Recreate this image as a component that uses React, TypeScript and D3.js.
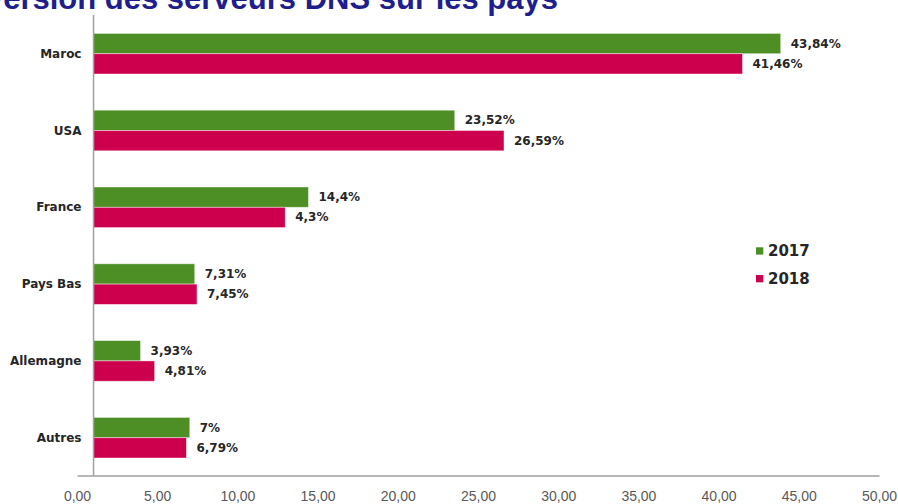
import React from "react";
import * as d3 from "d3";

const categories = ["Maroc", "USA", "France", "Pays Bas", "Allemagne", "Autres"];
const seriesNames = ["2017", "2018"];
const values2017 = [43.84, 23.52, 14.4, 7.31, 3.93, 7.0];
const values2018 = [41.46, 26.59, 12.95, 7.45, 4.81, 6.79];
const labels2017 = ["43,84%", "23,52%", "14,4%", "7,31%", "3,93%", "7%"];
const labels2018 = ["41,46%", "26,59%", "4,3%", "7,45%", "4,81%", "6,79%"];
const xTicks = [0, 5, 10, 15, 20, 25, 30, 35, 40, 45, 50];
const titleText = "Version des serveurs DNS sur les pays";

const W = 898;
const H = 504;
const COLORS = ["#4E8F25", "#CC004C"];
const AXIS_CROSS = 1;
const FONT = "'DejaVu Sans', 'Liberation Sans', sans-serif";

export default function App() {
  const x = d3.scaleLinear().domain([0, 50]).range([77.5, 879.5]);
  const y = d3
    .scaleBand<string>()
    .domain(categories)
    .range([15.3, 476.1])
    .paddingInner(0.471)
    .paddingOuter(0.2355);
  const inner = d3.scaleBand<string>().domain(seriesNames).range([0, y.bandwidth()]);
  const fmt = (v: number) => d3.format(".2f")(v).replace(".", ",");
  const series = [
    { name: seriesNames[0], values: values2017, labels: labels2017 },
    { name: seriesNames[1], values: values2018, labels: labels2018 },
  ];
  const axisX = x(AXIS_CROSS);
  const axisY = 476;

  return (
    <svg
      width={W}
      height={H}
      style={{ position: "absolute", left: 0, top: 0, display: "block", background: "#fff" }}
    >
      <text
        x={558}
        y={8.5}
        textAnchor="end"
        fontFamily="'Liberation Sans', Arial, sans-serif"
        fontWeight="bold"
        fontSize={31}
        fill="#1E1E8C"
      >
        {titleText}
      </text>

      {series.map((s, si) => (
        <g key={s.name}>
          {categories.map((c, i) => {
            const by = (y(c) ?? 0) + (inner(s.name) ?? 0);
            const bh = inner.bandwidth();
            const x1 = x(s.values[i]);
            return (
              <g key={c}>
                <rect
                  x={axisX}
                  y={by}
                  width={Math.max(0, x1 - axisX)}
                  height={bh}
                  fill={COLORS[si]}
                  stroke="rgba(255,255,255,0.55)"
                  strokeWidth={0.8}
                />
                <text
                  x={x1 + 10}
                  y={by + bh / 2}
                  dominantBaseline="central"
                  fontFamily={FONT}
                  fontWeight="bold"
                  fontSize={12}
                  fill="#262626"
                >
                  {s.labels[i]}
                </text>
              </g>
            );
          })}
        </g>
      ))}

      {categories.map((c) => (
        <text
          key={c}
          x={81.5}
          y={(y(c) ?? 0) + y.bandwidth() / 2}
          textAnchor="end"
          dominantBaseline="central"
          fontFamily={FONT}
          fontWeight="bold"
          fontSize={12}
          fill="#262626"
        >
          {c}
        </text>
      ))}

      <line x1={axisX} x2={axisX} y1={15} y2={axisY} stroke="#A0A0A0" strokeWidth={1.5} />
      <line x1={x(0)} x2={x(50)} y1={axisY} y2={axisY} stroke="#A0A0A0" strokeWidth={1.5} />

      {xTicks.map((t) => (
        <text
          key={t}
          x={x(t)}
          y={495.7}
          textAnchor="middle"
          dominantBaseline="central"
          fontFamily="'Liberation Sans', Arial, sans-serif"
          fontSize={14}
          fill="#595959"
        >
          {fmt(t)}
        </text>
      ))}

      {seriesNames.map((n, i) => (
        <g key={n} transform={`translate(756, ${247.3 + i * 27.7})`}>
          <rect x={0} y={0} width={7.3} height={7.3} fill={COLORS[i]} />
          <text
            x={12}
            y={3.6}
            dominantBaseline="central"
            fontFamily={FONT}
            fontWeight="bold"
            fontSize={15}
            fill="#262626"
          >
            {n}
          </text>
        </g>
      ))}
    </svg>
  );
}
